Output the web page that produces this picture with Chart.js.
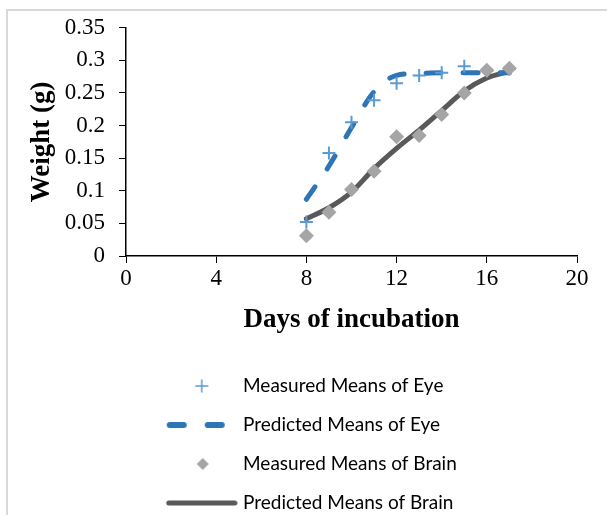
<!DOCTYPE html>
<html>
<head>
<meta charset="utf-8">
<script src="https://cdn.jsdelivr.net/npm/chart.js@4.4.1/dist/chart.umd.min.js"></script>
<style>
  html, body { margin: 0; padding: 0; background: #fff; }
  #wrap { position: relative; width: 607px; height: 515px; }
  #frame { position: absolute; left: 6px; top: 9px; right: 0; bottom: 0;
           border-left: 2px solid #d9d9d9; border-top: 2px solid #d9d9d9; pointer-events: none; }
</style>
</head>
<body>
<div id="wrap">
  <canvas id="chart" width="607" height="515"></canvas>
  <div id="frame"></div>
</div>
<script>
// days of incubation
const days = [8, 9, 10, 11, 12, 13, 14, 15, 16, 17];
const eyeMeasured = [0.052, 0.158, 0.205, 0.239, 0.265, 0.277, 0.281, 0.291, 0.284, 0.287];
const eyePredicted = [0.087, 0.138, 0.197, 0.252, 0.277, 0.280, 0.281, 0.281, 0.281, 0.281];
const brainMeasured = [0.031, 0.067, 0.102, 0.130, 0.183, 0.185, 0.217, 0.250, 0.285, 0.288];
const brainPredicted = [0.057, 0.074, 0.098, 0.134, 0.165, 0.193, 0.223, 0.253, 0.273, 0.283];

const seriesNames = ['Measured Means of Eye', 'Predicted Means of Eye', 'Measured Means of Brain', 'Predicted Means of Brain'];
const xTicks = [0, 4, 8, 12, 16, 20];
const yTicks = [0, 0.05, 0.1, 0.15, 0.2, 0.25, 0.3, 0.35];
const yTickLabels = ['0', '0.05', '0.1', '0.15', '0.2', '0.25', '0.3', '0.35'];

const eyeLight = '#5b9bd5';
const eyeDark = '#2e75b6';
const brainLight = '#a5a5a5';
const brainDark = '#595959';

const pts = (ys) => days.map((d, i) => ({ x: d, y: ys[i] }));

// little pictures for the legend rows
function legendImage(kind) {
    const c = document.createElement('canvas');
    c.width = 96; c.height = 20;
    const g = c.getContext('2d');
    g.lineCap = 'round';
    g.beginPath();
    if (kind === 'plus') {
        g.strokeStyle = eyeLight; g.lineWidth = 1.5;
        g.moveTo(54, 10); g.lineTo(66, 10); g.moveTo(60, 4); g.lineTo(60, 16);
        g.stroke();
    } else if (kind === 'dash') {
        g.strokeStyle = eyeDark; g.lineWidth = 6;
        g.moveTo(28, 10); g.lineTo(42, 10); g.moveTo(66, 10); g.lineTo(80, 10);
        g.stroke();
    } else if (kind === 'diamond') {
        g.fillStyle = brainLight;
        g.moveTo(61, 4); g.lineTo(67, 10); g.lineTo(61, 16); g.lineTo(55, 10);
        g.closePath(); g.fill();
    } else {
        g.strokeStyle = brainDark; g.lineWidth = 5;
        g.moveTo(27, 10); g.lineTo(93, 10);
        g.stroke();
    }
    return c;
}
const legendPics = [legendImage('plus'), legendImage('dash'), legendImage('diamond'), legendImage('line')];

const tickFont = { family: 'Liberation Serif', size: 23 };
const titleFont = { family: 'Liberation Serif', size: 27, weight: 'bold' };

new Chart(document.getElementById('chart'), {
    type: 'line',
    data: {
        datasets: [
            { label: seriesNames[0], data: pts(eyeMeasured), showLine: false, order: 1,
              pointStyle: 'cross', pointRadius: 6.5, pointBorderWidth: 2,
              borderColor: eyeLight, backgroundColor: eyeLight },
            { label: seriesNames[1], data: pts(eyePredicted), order: 2, pointRadius: 0,
              borderColor: eyeDark, borderWidth: 5, borderDash: [15, 22], borderCapStyle: 'round',
              tension: 0.4, cubicInterpolationMode: 'monotone' },
            { label: seriesNames[2], data: pts(brainMeasured), showLine: false, order: 0,
              pointStyle: 'rectRot', pointRadius: 7.5, pointBorderWidth: 0,
              borderColor: brainLight, backgroundColor: brainLight },
            { label: seriesNames[3], data: pts(brainPredicted), order: 3, pointRadius: 0,
              borderColor: brainDark, borderWidth: 5, borderCapStyle: 'round',
              tension: 0.4, cubicInterpolationMode: 'monotone' }
        ]
    },
    options: {
        responsive: false,
        animation: false,
        layout: { padding: { left: 0, right: 30, top: 24, bottom: 2.5 } },
        scales: {
            x: {
                type: 'linear', min: 0, max: 20,
                afterBuildTicks: (s) => { s.ticks = xTicks.map(v => ({ value: v })); },
                afterFit: (s) => { s.height = 100.5; },
                ticks: { color: '#000', font: tickFont, padding: 2, maxRotation: 0 },
                grid: { drawOnChartArea: false, color: '#000', tickLength: 7 },
                border: { color: '#000', width: 1.5 },
                title: { display: true, text: 'Days of incubation', color: '#000', font: titleFont,
                         padding: { top: 0, bottom: 20 } }
            },
            y: {
                min: 0, max: 0.35,
                afterBuildTicks: (s) => { s.ticks = yTicks.map(v => ({ value: v })); },
                afterFit: (s) => { s.width = 126; },
                ticks: { color: '#000', font: tickFont, padding: 14,
                         callback: (v, i) => yTickLabels[i] },
                grid: { drawOnChartArea: false, color: '#000', tickLength: 7 },
                border: { color: '#000', width: 1.5 },
                title: { display: true, text: 'Weight (g)', color: '#000', font: titleFont,
                         padding: { top: 26, bottom: 0 } }
            }
        },
        plugins: {
            tooltip: { enabled: false },
            legend: {
                position: 'bottom',
                align: 'start',
                fullSize: false,
                maxHeight: 156,
                labels: {
                    usePointStyle: true,
                    pointStyleWidth: 87.5,
                    padding: 20,
                    color: '#000',
                    font: { family: 'Lato', size: 19 },
                    sort: (a, b) => a.datasetIndex - b.datasetIndex,
                    generateLabels: (chart) => {
                        const items = Chart.defaults.plugins.legend.labels.generateLabels(chart);
                        items.forEach(it => { it.pointStyle = legendPics[it.datasetIndex]; it.lineDash = []; });
                        return items;
                    }
                }
            }
        }
    }
});
</script>
</body>
</html>
